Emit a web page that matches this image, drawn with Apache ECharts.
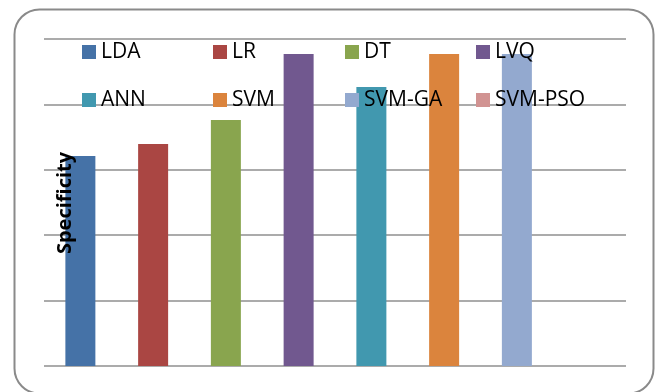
<!DOCTYPE html>
<html>
<head>
<meta charset="utf-8">
<script src="https://cdn.jsdelivr.net/npm/echarts@6/dist/echarts.min.js"></script>
<style>
  html, body { margin: 0; padding: 0; background: #ffffff; }
  #chart { width: 664px; height: 392px; }
</style>
</head>
<body>
<div id="chart"></div>
<script>
// Classifier names and their specificity scores
const methods = ['LDA', 'LR', 'DT', 'LVQ', 'ANN', 'SVM', 'SVM-GA', 'SVM-PSO'];
const specificity = [0.642, 0.679, 0.752, 0.954, 0.853, 0.954, 0.954, null];
const methodColors = ['#4572A7', '#AA4643', '#89A54E', '#71588F', '#4198AF', '#DB843D', '#93A9CF', '#D19392'];
const yTitle = 'Specificity';

// One series per method so every method gets its own legend entry;
// each series only fills its own category slot.
const series = methods.map((name, i) => ({
  name: name,
  type: 'bar',
  stack: 'all',
  barWidth: 30,
  itemStyle: { color: methodColors[i] },
  data: methods.map((_, j) => (j === i ? specificity[i] : null))
}));

// Legend laid out as a 4 x 2 block of entries
const legendCols = [82, 213, 345, 476];
const legendRows = [40, 88];
const legends = methods.map((name, i) => ({
  data: [name],
  left: legendCols[i % 4],
  top: legendRows[Math.floor(i / 4)],
  padding: 0,
  icon: 'rect',
  itemWidth: 14,
  itemHeight: 14,
  selectedMode: false,
  textStyle: {
    fontFamily: 'Open Sans',
    fontSize: 21,
    color: '#000000',
    lineHeight: 24
  }
}));

const chart = echarts.init(document.getElementById('chart'));
chart.setOption({
  animation: false,
  backgroundColor: '#ffffff',
  legend: legends,
  grid: { left: 44, right: 38, top: 39, bottom: 26, containLabel: false },
  xAxis: {
    type: 'category',
    data: methods,
    axisLine: { show: false },
    axisTick: { show: false },
    axisLabel: { show: false }
  },
  yAxis: {
    type: 'value',
    min: 0,
    max: 1,
    interval: 0.2,
    axisLine: { show: false },
    axisTick: { show: false },
    axisLabel: { show: false },
    splitLine: { lineStyle: { color: '#8f8f8f', width: 1.6 } }
  },
  graphic: [{
    type: 'rect',
    silent: true,
    z: -1,
    shape: { x: 14.5, y: 9.5, width: 639, height: 384, r: 25 },
    style: { fill: 'none', stroke: '#8a8a8a', lineWidth: 2 }
  }, {
    // value-axis title, drawn above the bars
    type: 'text',
    silent: true,
    z: 100,
    x: 65,
    y: 203,
    rotation: Math.PI / 2,
    style: {
      text: yTitle,
      fill: '#000000',
      font: 'bold 20px "Open Sans"',
      align: 'center',
      verticalAlign: 'middle'
    }
  }],
  series: series
});
</script>
</body>
</html>
